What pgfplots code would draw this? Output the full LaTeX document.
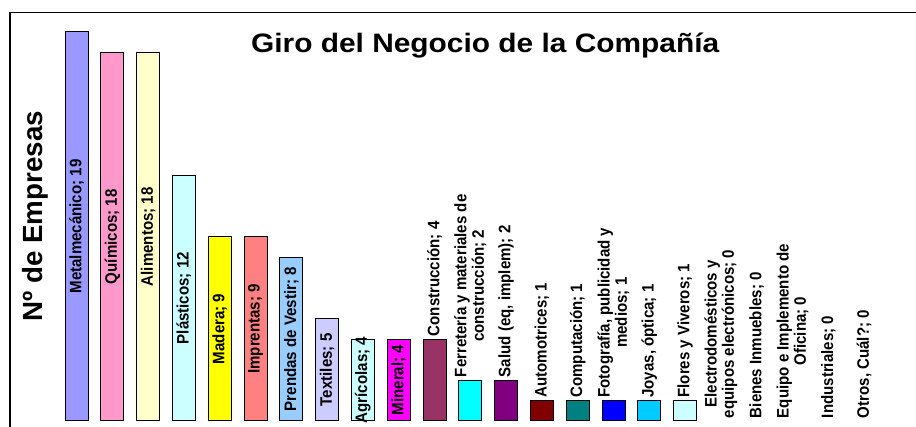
\documentclass[border=0pt]{standalone}
\usepackage{fontspec}
\setmainfont{Liberation Sans}
\usepackage{pgfplots}
\usepackage{pgfplotstable}
\pgfplotsset{compat=1.18}

% Excel palette, one colour per bar
\definecolor{c0}{HTML}{9999FF}
\definecolor{c1}{HTML}{FF99CC}
\definecolor{c2}{HTML}{FFFFCC}
\definecolor{c3}{HTML}{CCFFFF}
\definecolor{c4}{HTML}{FFFF00}
\definecolor{c5}{HTML}{FF8080}
\definecolor{c6}{HTML}{99CCFF}
\definecolor{c7}{HTML}{CCCCFF}
\definecolor{c8}{HTML}{CCFFFF}
\definecolor{c9}{HTML}{FF00FF}
\definecolor{c10}{HTML}{993366}
\definecolor{c11}{HTML}{00FFFF}
\definecolor{c12}{HTML}{800080}
\definecolor{c13}{HTML}{800000}
\definecolor{c14}{HTML}{008080}
\definecolor{c15}{HTML}{0000FF}
\definecolor{c16}{HTML}{00CCFF}
\definecolor{c17}{HTML}{CCFFFF}

\tikzset{lbl/.style={font=\fontsize{11.3}{11.8}\selectfont\bfseries,
    xscale=1.1, rotate=90, align=center}}

% ; , and line breaks hidden in macros so pgfplots' point stream keeps them
\protected\def\pc{;}
\protected\def\cm{,}
\protected\def\nl{\\}

% pos: 1 = label centred in bar, 0 = label above bar
\pgfplotstableread{
x  v  pos lab
0  19 1 {Metalmecánico\pc{} 19}
1  18 1 {Químicos\pc{} 18}
2  18 1 {Alimentos\pc{} 18}
3  12 1 {Plásticos\pc{} 12}
4  9  1 {Madera\pc{} 9}
5  9  1 {Imprentas\pc{} 9}
6  8  1 {Prendas de Vestir\pc{} 8}
7  5  1 {Textiles\pc{} 5}
8  4  1 {Agrícolas\pc{} 4}
9  4  1 {Mineral\pc{} 4}
10 4  0 {Construcción\pc{} 4}
11 2  0 {Ferretería y materiales de\nl construcción\pc{} 2}
12 2  0 {Salud (eq\cm{} implem)\pc{} 2}
13 1  0 {Automotrices\pc{} 1}
14 1  0 {Computación\pc{} 1}
15 1  0 {Fotografía\cm{} publicidad y\nl medios\pc{} 1}
16 1  0 {Joyas\cm{} óptica\pc{} 1}
17 1  0 {Flores y Viveros\pc{} 1}
18 0  0 {Electrodomésticos y\nl equipos electrónicos\pc{} 0}
19 0  0 {Bienes Inmuebles\pc{} 0}
20 0  0 {Equipo e Implemento de\nl Oficina\pc{} 0}
21 0  0 {Industriales\pc{} 0}
22 0  0 {Otros\cm{} Cuál?\pc{} 0}
}\giro

\begin{document}
\begin{tikzpicture}
\begin{axis}[
  scale only axis,
  width=631pt, height=307.1pt,
  xmin=-0.5, xmax=23, ymin=0, ymax=20,
  axis line style={draw=none},
  ticks=none,
  clip=false,
  title={Giro del Negocio de la Compañía},
  every axis title shift=0pt,
  title style={font=\fontsize{20}{24}\selectfont\bfseries, xscale=1.12,
    at={(axis description cs:0.507,0.899)}, anchor=base},
  ylabel={Nº de Empresas},
  ylabel style={font=\fontsize{20.8}{24}\selectfont\bfseries,
    at={(axis description cs:-0.0189,0.5)}, anchor=base},
]
\coordinate (O) at (rel axis cs:0,0);

\pgfplotsinvokeforeach{0,...,17}{
  \addplot[ybar, bar width=17.25pt, bar shift=0pt, fill=c#1, draw=black,
    line width=0.75pt, restrict x to domain=#1:#1]
    table[x=x, y=v] {\giro};
}

% labels centred inside the bars
\addplot[only marks, mark=none, point meta=explicit symbolic,
  nodes near coords={\pgfplotspointmeta},
  nodes near coords style={lbl, anchor=center, inner sep=0pt},
  restrict expr to domain={\thisrow{pos}}{1:1}]
  table[x=x, y expr=\thisrow{v}/2, meta=lab] {\giro};

% labels above the bars
\addplot[only marks, mark=none, point meta=explicit symbolic,
  nodes near coords={\pgfplotspointmeta},
  nodes near coords style={lbl, anchor=west, inner sep=2pt},
  restrict expr to domain={\thisrow{pos}}{0:0}]
  table[x=x, y=v, meta=lab] {\giro};
\end{axis}

\draw[line width=1pt] ([shift={(-36.45pt,-20pt)}]O) -- ([shift={(-36.45pt,306.5pt)}]O)
  -- ([shift={(700pt,306.5pt)}]O);
\pgfresetboundingbox
\path[use as bounding box] ([shift={(-43.95pt,-4.5pt)}]O) rectangle ([shift={(643.05pt,315.75pt)}]O);
\end{tikzpicture}
\end{document}
